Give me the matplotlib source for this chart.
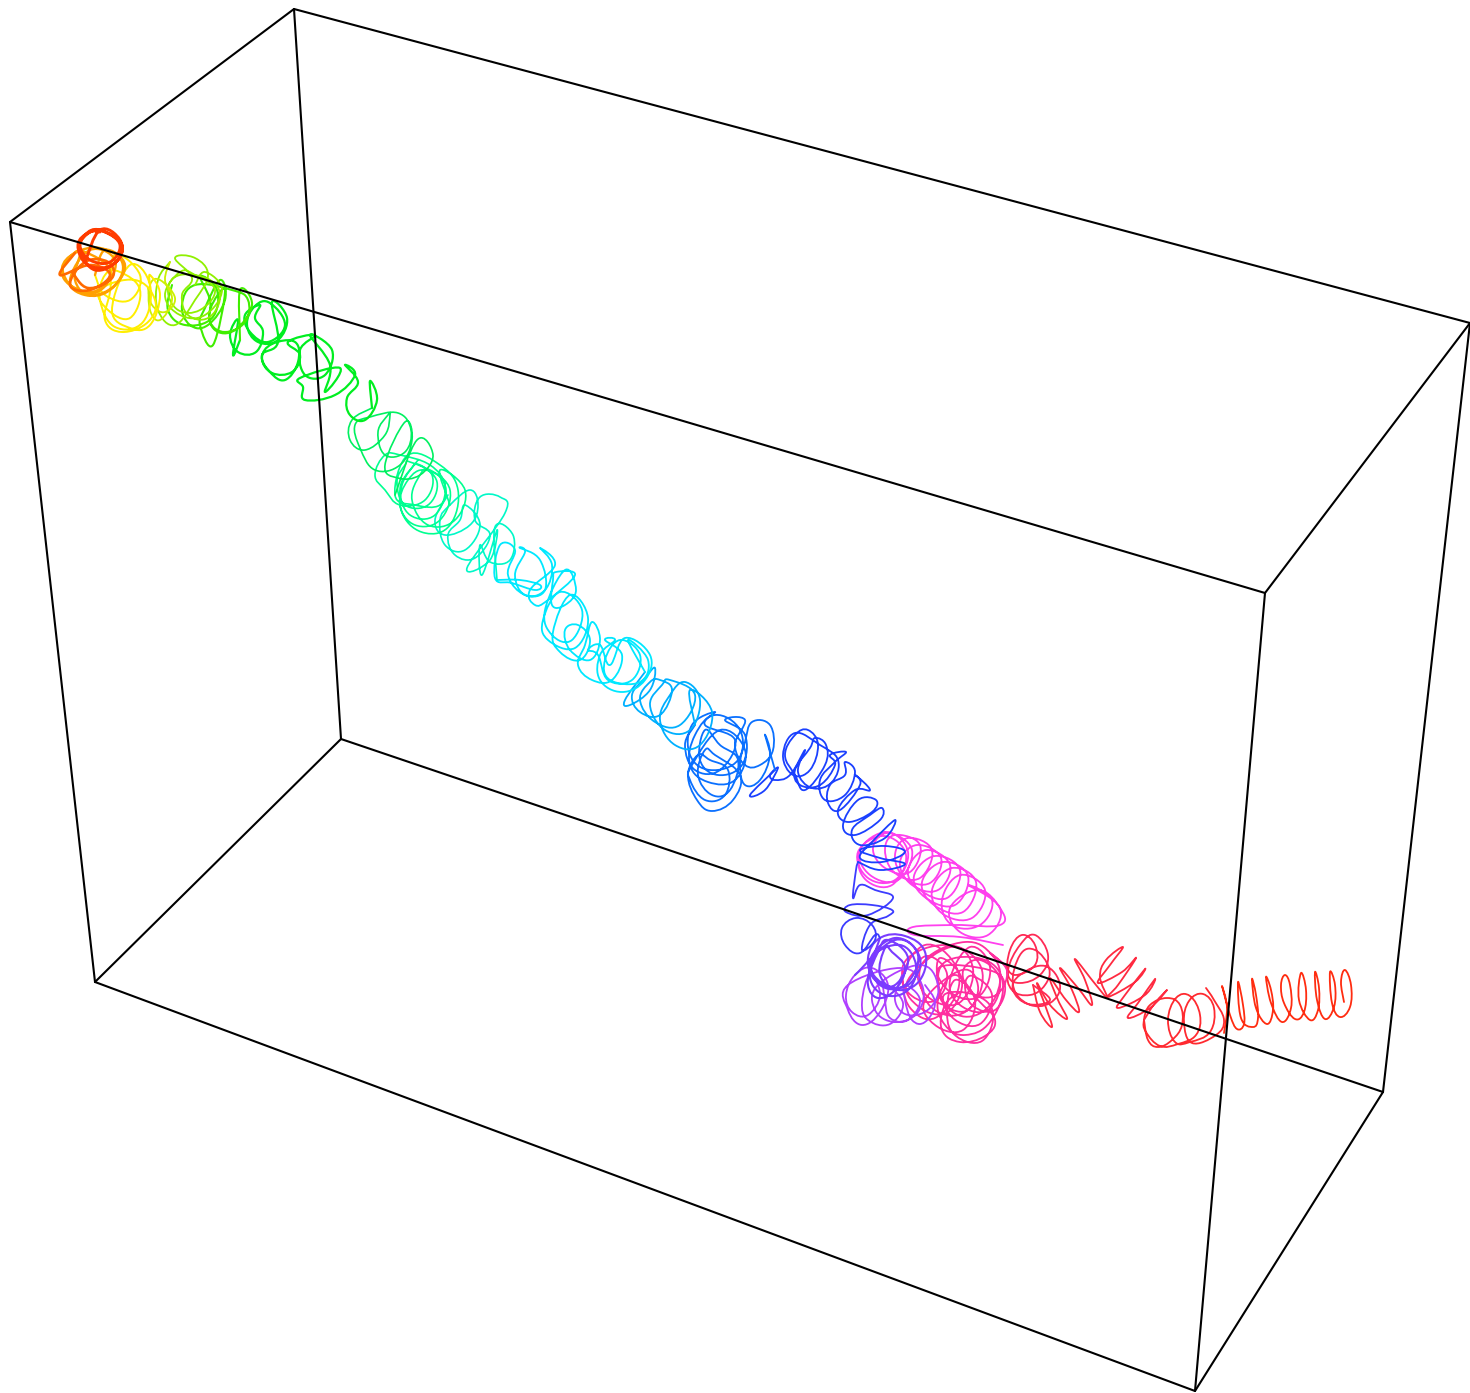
import numpy as np
import matplotlib
matplotlib.use("Agg")
import matplotlib.pyplot as plt
from matplotlib.path import Path
from matplotlib.patches import PathPatch

# box corners
front_top_left = (10, 222)
front_top_right = (1265, 593)
front_bottom_left = (95, 982)
front_bottom_right = (1195, 1391)
back_top_left = (294, 9)
back_top_right = (1470, 323)
back_bottom_left = (341, 739)
back_bottom_right = (1383, 1092)

# coil, one list per colour stretch
coil_red_a = [(1344,1002),(1341,982),(1345,970),(1351,985),(1350,1007),(1340,1017),(1332,1003),(1330,972),
    (1335,985),(1334,1007),(1325,1019),(1317,1000),(1315,972),(1319,988),(1318,1010),(1310,1020),
    (1299,1000),(1301,973),(1306,990),(1304,1012),(1295,1019),(1284,1003),(1281,985),(1285,975),(1290,985),
    (1291,1008),(1282,1022),(1271,1003),(1266,977),(1271,990),(1273,1010),(1267,1024),(1256,1008),(1252,979),
    (1256,995),(1258,1018),(1253,1027),(1241,1018),(1238,982),(1243,1005),(1244,1024),(1237,1029),(1230,1015),
    (1222,986),(1227,1007),(1224,1033)]
coil_red_b = [(1206,988),(1214,1000),(1224,1020),(1216,1035),(1192,1043),(1184,1022),(1189,1001),(1203,994),
    (1214,1008),(1210,1032),(1190,1042),(1175,1042),(1168,1020),(1176,998),(1190,996),(1200,1015),(1196,1035),
    (1178,1044),(1160,1046),(1146,1032),(1144,1020),(1150,1005),(1167,998),(1180,1005),(1182,1025),(1172,1040),
    (1158,1047),(1148,1040),(1144,1020)]
coil_rose_a = [(1144,1020),(1155,1003),(1167,990),(1150,1008),(1128,1018),(1138,1003),(1155,979),(1145,995),
    (1118,1008),(1125,995),(1145,969),(1135,982),(1108,997),(1118,985),(1136,958),(1122,972),(1098,983),
    (1110,965),(1123,947),(1106,960),(1100,977),(1107,997),(1096,985),(1075,959),(1085,980),(1092,1005),
    (1078,988),(1060,968),(1072,990),(1079,1012),(1066,1000),(1050,978),(1058,1000),(1067,1019),(1050,1005),
    (1037,983),(1045,1005),(1052,1027),(1040,1012),(1033,985)]
coil_rose_b = [(1033,985),(1050,1000),(1028,1004),(1013,990),(1020,975),(1045,966),(1060,985),(1050,1003),
    (1028,1004),(1013,985),(1020,955),(1035,950),(1049,968),(1045,985),(1030,995),(1012,990),(1008,970),
    (1020,945),(1035,935),(1048,955),(1040,975),(1020,983),(1008,975),(1010,950),(1022,935),(1035,945),
    (1035,965),(1015,975),(1005,965)]
coil_pink = [(1005,965),(990,953),(1007,971),(996,995),(972,993),(963,971),
    (980,960),(1000,980),(988,1010),(960,1005),(950,980),
    (970,947),(990,967),(978,997),(950,992),(940,967),
    (989,970),(1005,986),(995,1010),(973,1006),(965,986),
    (973,976),(992,995),(980,1024),(954,1019),(944,995),
    (975,995),(993,1013),(982,1041),(956,1036),(947,1013),
    (955,980),(975,1000),(963,1030),(935,1025),(925,1000),
    (962,970),(978,986),(968,1010),(946,1006),(938,986),
    (940,958),(962,980),(948,1012),(919,1007),(908,980),
    (951,947),(973,969),(959,1003),(928,997),(917,969),
    (929,956),(947,974),(936,1000),(912,996),(903,974),
    (925,945),(952,960),(958,990),(935,1018),(912,1010),(903,985),(908,958),
    (945,945),(975,958),(982,985),(965,1012),(938,1012),(922,990),(925,960),
    (965,942),(992,955),(1000,982),(985,1010),(958,1015),(940,992),(945,962),
    (985,960),(1003,985),(990,1022),(965,1035),(945,1025),(938,1000),(955,975),
    (978,1000),(995,1020),(985,1036),(960,1042),(942,1030),(945,1005),(960,992)]
coil_magenta = [(1003,945),(960,937),(915,935),(913,927),(955,925),(1000,925),
    (1000,908),(978,890),(950,908),(960,932),(988,935),(1000,908),
    (968,885),(992,900),(980,925),(952,925),(942,900),
    (960,875),(985,890),(972,918),(943,914),(932,890),
    (952,868),(976,882),(963,912),(934,905),(922,882),
    (943,862),(968,876),(955,905),(926,898),(914,876),
    (935,856),(960,870),(947,898),(920,890),(908,870),
    (926,850),(950,865),(938,890),(912,885),(900,862),
    (917,845),(941,858),(930,883),(905,878),(895,855),
    (908,838),(932,850),(920,878),(895,873),(885,850),
    (895,835),(920,845),(910,872),(885,868),(873,848),
    (888,833),(912,850),(898,880),(870,875),(860,850),
    (887,832),(908,852),(895,880),(868,878),(858,852),
    (884,836),(906,855),(892,885),(866,880),(860,855),(885,832)]
coil_violet = [(925,985),(935,1003),(925,1022),(912,1020),(905,1000),
    (905,985),(920,1000),(908,1020),(890,1018),(885,1000),
    (885,985),(903,1003),(890,1024),(868,1020),(862,1002),
    (870,975),(880,995),(868,1015),(852,1012),(846,995),(855,975),
    (872,968),(888,985),(880,1012),(862,1025),(848,1010),(848,985),
    (900,968),(922,985),(918,1012),(895,1022),(875,1010),(878,985),
    (920,965),(938,985),(930,1008),(908,1015),(895,1000),(902,975)]
coil_purple = [(855,975),(895,940),(920,958),(908,985),(882,983),(870,960),
    (895,938),(918,955),(905,985),(880,985),(872,958),
    (900,945),(916,965),(908,990),(885,995),(870,978),(878,952),
    (888,940),(908,958),(895,985),(875,980),(868,958),(880,938),
    (905,936),(925,952),(920,980),(898,990),(880,975),(885,948),
    (892,952),(905,968),(895,990),(878,998),(868,985),(872,962),(880,938)]
coil_indigo = [(880,938),(875,935),(860,953),(845,945),(842,928),(856,918),(872,925),(875,940),(862,950),
    (870,925),(888,916),(892,910),(872,905),(850,905),(846,912),(868,915),(893,898),(875,890),(860,885),
    (853,898),(856,870),(858,862)]
coil_blue = [(858,862),(880,870),(905,864),(880,858),(860,850),(885,846),(905,852),(882,862),(860,858),(872,842),
    (895,820),(885,838),(860,845),(852,830),(870,815),
    (882,808),(880,820),(855,835),(843,825),(858,800),
    (876,800),(872,812),(848,822),(838,810),(855,790),(870,790),
    (855,775),(860,785),(840,810),(828,803),(830,785),(845,775),
    (845,762),(855,772),(845,795),(825,800),(820,780),(835,762),(846,752),
    (830,755),(835,765),(820,785),(800,785),(795,770),(810,748),
    (815,738),(826,745),(825,765),(805,790),(795,775),(785,755),(795,735),
    (808,730),(818,745),(810,770),(793,775),(783,755),(795,733),
    (820,745),(838,760),(832,782),(812,788),(798,772),(805,750),
    (790,775),(775,780),(770,775),(778,768),(765,790),(750,795),(775,770)]
coil_azure = [(775,770),(765,735),(770,755),(760,780),(745,785),(740,765),(745,742),
    (752,722),(770,725),(773,750),(760,765),(745,765),(735,745),(745,720),
    (725,720),(745,735),(742,765),(718,775),(700,760),(705,730),
    (720,745),(738,760),(730,790),(712,795),(698,775),(705,750),
    (715,755),(740,775),(733,800),(712,811),(697,800),(688,775),(698,755),
    (710,760),(728,770),(725,795),(705,800),(690,780),(692,765),
    (720,730),(745,750),(735,780),(708,782),(690,765),(695,735),
    (715,715),(740,730),(738,760),(710,770),(690,755),(692,725),(715,712),
    (705,725),(735,740),(720,770),(695,770),(685,745),(695,725)]
coil_sky = [(695,725),(690,690),(712,712),(700,745),(675,745),(660,720),(670,695),
    (685,682),(700,700),(690,730),(665,730),(650,705),(662,685),
    (670,680),(695,695),(680,725),(655,722),(640,700),(650,682),
    (660,680),(672,690),(660,715),(640,712),(632,695),(645,678),
    (655,668),(650,690),(630,705),(625,700),(645,672)]
coil_cyan = [(645,672),(628,640),(648,660),(640,682),(610,680),(605,660),
    (620,640),(640,655),(632,680),(608,680),(598,655),(588,650),(600,645),(610,665),
    (625,638),(650,655),(645,680),(622,692),(600,680),(600,655),(615,640),
    (605,640),(622,655),(612,680),(592,680),(578,665),(585,645),
    (592,622),(600,640),(590,660),(570,650),(565,630),
    (578,625),(590,640),(580,660),(560,652),(553,632),
    (570,595),(588,618),(575,648),(548,640),(543,620),
    (560,592),(582,610),(572,640),(552,635),(545,610),
    (565,570),(576,590),(565,605),(552,605),(553,580),
    (556,572),(575,575),(548,600),(535,605),(530,590),(555,565),
    (540,548),(552,565),(545,590),(525,595),(515,575),(525,552),
    (520,548),(540,560),(545,590),(525,595),(508,575),(515,550),
    (500,545),(495,578),(512,583),(535,590),(540,585),(520,580),(497,580)]
coil_teal = [(497,580),(495,527),(513,535),(510,560),(490,562),(480,545),(482,575),(497,530),(490,560),
    (467,568),(505,513),(500,497),(480,497),(475,520),(490,535),(475,558),(455,555),(448,535),(460,520),
    (465,505),(480,525),(465,550),(445,545),(440,520),(450,505),
    (470,490),(478,505),(470,525),(445,535),(435,520),(448,495)]
coil_mint = [(450,505),(440,470),(465,490),(455,520),(428,525),(412,500),(420,475),
    (430,470),(450,490),(440,520),(415,525),(400,505),(408,480),
    (425,470),(445,485),(435,515),(410,515),(400,490),(410,470),
    (420,465),(437,482),(428,505),(405,505),(397,482),(405,465),
    (410,462),(432,475),(425,500),(400,505),(385,490),(375,475),(385,455),
    (400,455),(430,465),(445,485),(440,505),(415,505),(395,495),
    (408,455),(440,465),(458,490),(450,525),(425,533),(403,515),(402,485),(418,460)]
coil_jade = [(395,495),(417,440),(433,455),(420,475),(398,478),(385,465),
    (405,422),(412,440),(400,465),(375,470),(360,448),(355,425),(370,417),
    (398,413),(411,430),(405,452),(385,455),(378,432),(388,415),
    (390,415),(385,435),(365,450),(350,440),(352,420),(372,408)]
coil_green = [(372,408),(370,381),(377,400),(365,420),(350,415),(347,398),(358,382),
    (345,365),(355,375),(335,395),(305,400),(303,387),(300,378),(340,368),(325,392),(330,365),
    (310,335),(332,350),(325,375),(305,375),(300,350),(315,335),
    (288,342),(300,355),(292,372),(272,373),(262,358),(272,344),
    (295,342),(298,362),(285,380),(270,372),(262,355),(278,342),
    (272,302),(287,318),(278,340),(258,342),(247,325),(255,306),
    (270,303),(285,325),(268,342),(250,332),(245,315),(260,305),
    (255,318),(263,332),(256,352),(238,352),(230,335),(238,320),(233,355),(240,340)]
coil_lime = [(240,340),(240,290),(252,305),(235,330),(215,330),(210,310),(225,290),
    (213,345),(200,325),(205,308),(220,280),(225,300),(208,325),(190,325),(182,305),(195,285),
    (232,290),(248,300),(245,322),(225,332),(210,322),(210,300),
    (200,276),(217,290),(212,318),(185,325),(168,310),(172,285)]
coil_chartreuse = [(195,285),(205,272),(222,290),(205,315),(180,315),(165,295),(180,272),
    (195,275),(215,290),(200,310),(178,310),(168,290),(180,275),
    (210,280),(220,298),(208,318),(188,315),(182,295),(192,278),
    (175,258),(195,258),(208,275),(195,300),(175,325),(158,310),(158,280),(170,262)]
coil_yellow_green = [(170,262),(165,280),(172,300),(160,320),(150,310),(150,285),
    (160,280),(175,298),(165,312),(152,305),(148,288)]
coil_yellow = [(150,285),(150,275),(160,295),(150,325),(130,328),(112,310),
    (130,265),(150,285),(143,322),(115,327),(100,300),(105,275),
    (120,272),(140,290),(130,318),(108,310),(100,290),
    (135,280),(155,300),(148,322),(122,332),(105,320),(110,292),
    (115,255),(140,275),(130,300),(105,295),(95,275)]
coil_orange = [(95,275),(105,250),(125,265),(110,290),(85,295),(70,280),
    (90,250),(115,260),(105,285),(80,292),(63,272),(72,255),
    (85,252),(110,270),(97,292),(70,285),(62,268),(75,253),
    (100,248),(122,262),(115,285),(90,295),(75,280),(80,255)]
coil_vermilion = [(75,253),(60,275),(90,265),(110,275),(90,290),(70,285),(85,262),(108,262),(112,278),(88,288),(72,272)]
coil_red_orange = [(85,262),(100,230),(120,240),(118,260),(95,270),(80,250),(85,235),
    (100,230),(122,245),(112,265),(88,265),(78,245),(90,232),
    (105,232),(120,245),(110,262),(90,260),(80,245),(90,232),(100,232)]

coil_parts = [coil_red_a, coil_red_b, coil_rose_a, coil_rose_b, coil_pink, coil_magenta, coil_violet,
              coil_purple, coil_indigo, coil_blue, coil_azure, coil_sky, coil_cyan, coil_teal, coil_mint,
              coil_jade, coil_green, coil_lime, coil_chartreuse, coil_yellow_green, coil_yellow,
              coil_orange, coil_vermilion, coil_red_orange]
coil_colors = ["#ff2c10", "#ff2a30", "#ff2a40", "#ff2a55", "#ff2fa0", "#ff40ee", "#b040ff",
               "#7a3cff", "#3c3cff", "#1a40ff", "#0a70ff", "#00b0ff", "#00e8ff", "#00f8c8", "#00ff90",
               "#00f060", "#00ee20", "#40ee00", "#90f000", "#ccf000", "#ffee00",
               "#ffa000", "#ff6a00", "#ff3c00"]
coil_widths = [1.3, 1.3, 1.3, 1.3, 1.3, 1.3, 1.3,
               1.5, 1.3, 1.3, 1.3, 1.3, 1.3, 1.2, 1.2,
               1.2, 1.6, 1.5, 1.3, 1.3, 1.4,
               1.7, 1.9, 2.1]

box_edges = [(front_top_left, back_top_left), (back_top_left, back_top_right),
             (back_top_right, front_top_right), (front_top_right, front_top_left),
             (front_top_left, front_bottom_left), (front_bottom_left, front_bottom_right),
             (front_bottom_right, front_top_right), (front_bottom_right, back_bottom_right),
             (back_bottom_right, back_top_right), (back_bottom_right, back_bottom_left),
             (back_bottom_left, front_bottom_left), (back_bottom_left, back_top_left)]


def smooth_path(points):
    # curve through the read points, the handles just round off the corners
    pts = np.array(points, dtype=float)
    before = np.vstack([pts[0], pts[:-1]])
    after = np.vstack([pts[1:], pts[-1]])
    handle = (after - before) / 5
    verts = [pts[0]]
    codes = [Path.MOVETO]
    for i in range(len(pts) - 1):
        verts += [pts[i] + handle[i], pts[i + 1] - handle[i + 1], pts[i + 1]]
        codes += [Path.CURVE4, Path.CURVE4, Path.CURVE4]
    return Path(verts, codes)


fig = plt.figure(figsize=(14.7, 13.93), dpi=100)
ax = fig.add_axes([0, 0, 1, 1])
ax.set_xlim(0, 1470)
ax.set_ylim(1393, 0)
ax.axis("off")

for part, color, width in zip(coil_parts, coil_colors, coil_widths):
    ax.add_patch(PathPatch(smooth_path(part), facecolor="none", edgecolor=color, linewidth=width,
                           joinstyle="round", capstyle="round", zorder=2))

for start, end in box_edges:
    ax.plot([start[0], end[0]], [start[1], end[1]], color="black", linewidth=1.5, zorder=3,
            clip_on=False, solid_capstyle="round")

fig.savefig("out.png", dpi=100)
